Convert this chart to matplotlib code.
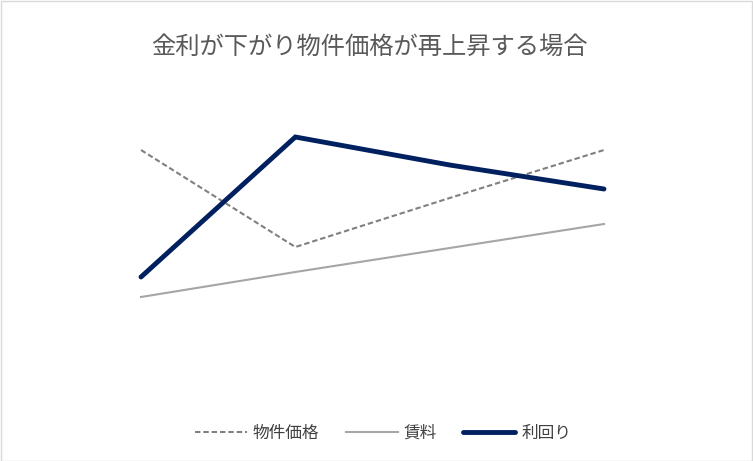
import matplotlib
matplotlib.use("Agg")
import matplotlib.pyplot as plt
from matplotlib.patches import Rectangle

plt.rcParams['font.family'] = ['Noto Sans CJK JP', 'DejaVu Sans']

categories = ["1", "2", "3", "4"]
price = [250, 153, 202, 250]     # 物件価格
rent = [103, 128, 152, 176]      # 賃料
yield_ = [123, 263, 235, 211]    # 利回り
labels = ["物件価格", "賃料", "利回り"]
title = "金利が下がり物件価格が再上昇する場合"

W, H = 753, 461
fig = plt.figure(figsize=(W / 100, H / 100), dpi=100)
ax = fig.add_axes([141 / W, (H - 400) / H, (604 - 141) / W, 300 / H])
x = list(range(len(categories)))
ax.plot(x, price, color="#808080", lw=1.5, ls=(0, (2.6, 1.4)), label=labels[0],
        clip_on=False)
ax.plot(x, rent, color="#a6a6a6", lw=1.5, label=labels[1], clip_on=False)
ax.plot(x, yield_, color="#002060", lw=3.5, solid_capstyle="round",
        solid_joinstyle="miter", label=labels[2], clip_on=False)
ax.set_xlim(0, 3)
ax.set_ylim(0, 300)
ax.axis("off")

fig.text(369 / W, 1 - 47 / H, title, ha="center", va="center",
         fontsize=17.5, color="#595959")

fig.legend(loc="center", bbox_to_anchor=(383 / W, 1 - 433 / H), ncol=3,
           frameon=False, fontsize=12, handlelength=3.1, columnspacing=1.6,
           handletextpad=0.36, labelcolor="#404040")

fig.patches.append(Rectangle((0.5 / W, 0.5 / H), 1 - 1.5 / W, 1 - 1.5 / H,
                             transform=fig.transFigure, fill=False,
                             edgecolor="#d9d9d9", lw=1))
fig.savefig("out.png", dpi=100)
